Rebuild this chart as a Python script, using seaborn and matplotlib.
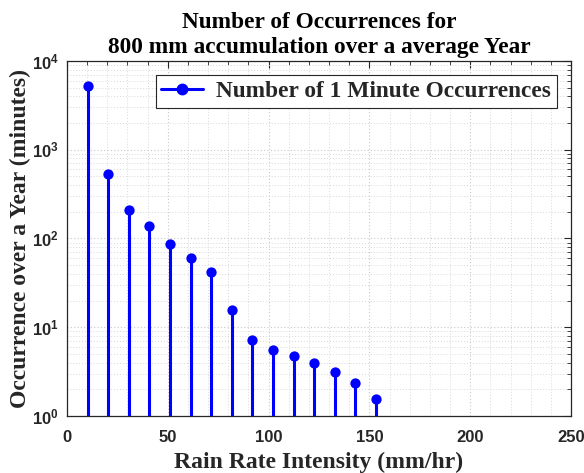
import matplotlib
matplotlib.use("Agg")
import matplotlib.pyplot as plt
import seaborn as sns
import pandas as pd
import numpy as np
from matplotlib.lines import Line2D
from matplotlib.ticker import FixedLocator, FuncFormatter, LogLocator, MultipleLocator

# ---- data ----
rain_rate = [10.2, 20.4, 30.7, 40.9, 51.1, 61.3, 71.5, 81.8, 92.0, 102.2,
             112.4, 122.7, 132.9, 143.1, 153.3]
occurrences = [5175, 532, 212, 138, 87.5, 60.2, 41.5, 15.8, 7.15, 5.54,
               4.77, 3.95, 3.15, 2.36, 1.57]
series_label = "Number of 1 Minute Occurrences"
title_text = "Number of Occurrences for\n800 mm accumulation over a average Year"
x_label = "Rain Rate Intensity (mm/hr)"
y_label = "Occurrence over a Year (minutes)"
x_ticks = [0, 50, 100, 150, 200, 250]
y_ticks = [1, 10, 100, 1000, 10000]

df = pd.DataFrame({"rate": rain_rate, "occ": occurrences})

sns.set_theme(style="white")
plt.rcParams["font.family"] = ["Liberation Serif", "DejaVu Serif"]
plt.rcParams["mathtext.fontset"] = "custom"
plt.rcParams["mathtext.rm"] = "Liberation Sans:bold"
plt.rcParams["mathtext.bf"] = "Liberation Sans:bold"
plt.rcParams["mathtext.it"] = "Liberation Sans:bold"

fig = plt.figure(figsize=(5.84, 4.73), dpi=100)
ax = fig.add_axes([67 / 584, 1 - 416 / 473, (571 - 67) / 584, (416 - 61) / 473])

blue = "#0000ff"
ax.set_yscale("log")
ax.set_xlim(0, 250)
ax.set_ylim(1, 1e4)

ax.vlines(df["rate"], 1, df["occ"], color=blue, lw=2.2, zorder=3)
sns.scatterplot(data=df, x="rate", y="occ", ax=ax, color=blue, s=55,
                edgecolor=blue, linewidth=0, zorder=4, legend=False)

# grid
ax.xaxis.set_major_locator(FixedLocator(x_ticks))
ax.xaxis.set_minor_locator(MultipleLocator(10))
ax.yaxis.set_major_locator(FixedLocator(y_ticks))
ax.yaxis.set_minor_locator(LogLocator(base=10, subs=np.arange(2, 10)))
ax.grid(True, which="major", color="#c8c8c8", ls=(0, (1, 2)), lw=0.8)
ax.grid(True, which="minor", color="#d8d8d8", ls=(0, (1, 2)), lw=0.7)
ax.set_axisbelow(True)

ax.yaxis.set_major_formatter(FuncFormatter(lambda v, p: r"$\mathbf{10^{%d}}$" % int(round(np.log10(v)))))
ax.xaxis.set_major_formatter(FuncFormatter(lambda v, p: "%d" % v))
ax.tick_params(axis="both", which="both", direction="in", top=True, right=True,
               color="#262626")
ax.tick_params(axis="both", which="major", length=5, width=0.8, labelsize=12)
ax.tick_params(axis="x", which="major", pad=10)
ax.tick_params(axis="y", which="major", pad=6)
ax.tick_params(axis="both", which="minor", length=3, width=0.6)
for lab in ax.get_xticklabels():
    lab.set_fontfamily("Liberation Sans")
    lab.set_fontweight("bold")

for s in ax.spines.values():
    s.set_color("#262626")
    s.set_linewidth(0.9)
    s.set_visible(True)

ax.set_xlabel(x_label, fontsize=17, fontweight="bold", labelpad=5,
              color="#262626")
ax.set_ylabel(y_label, fontsize=17, fontweight="bold", labelpad=0.5,
              color="#262626")
ax.set_title(title_text, fontsize=16.8, fontweight="bold", pad=6,
             linespacing=1.2, color="black")

handle = Line2D([0], [0], color=blue, lw=2.2, marker="o", markersize=7.5,
                markerfacecolor=blue, markeredgecolor=blue)
leg = ax.legend([handle], [series_label], loc="upper right",
                bbox_to_anchor=(0.972, 0.96),
                prop={"family": "Liberation Serif", "weight": "bold", "size": 16.8},
                frameon=True, fancybox=False, framealpha=1, edgecolor="#262626",
                handlelength=1.8, borderpad=0.25, handletextpad=0.55,
                borderaxespad=0.0)
leg.get_frame().set_linewidth(0.8)

fig.savefig("out.png", dpi=100)
